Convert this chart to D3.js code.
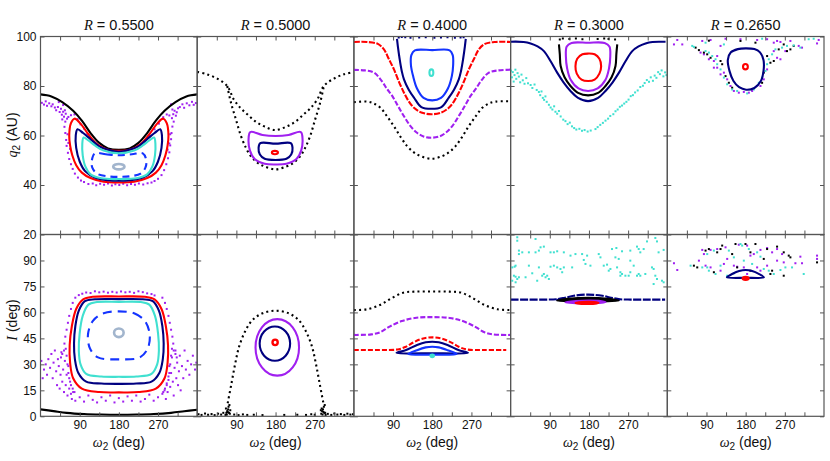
<!DOCTYPE html>
<html><head><meta charset="utf-8">
<script src="https://cdn.jsdelivr.net/npm/d3@7"></script>
<style>
body{margin:0;background:#fff;}
text{font-family:"Liberation Sans",Arial,sans-serif;fill:#111;}
.var{font-family:"Liberation Serif","Times New Roman",serif;font-style:italic;}
</style></head><body>
<svg id="chart" width="830" height="461"></svg>
<script>
// ---------- data (omega in deg, q2 in AU, I in deg) ----------
var rValues = ["0.5500", "0.5000", "0.4000", "0.3000", "0.2650"];
var qTicks = [20, 40, 60, 80, 100];
var iTicks = [0, 15, 30, 45, 60, 75, 90];
var omegaTicks = [45, 90, 135, 180, 225, 270, 315];
var omegaLabels = [90, 180, 270];

// R = 0.55, q2
var p1qBlack = [[0,76.6],[25,75.8],[50,73.5],[75,70],[95,66],[115,61],[135,57],[155,54.8],[180,54.2],[205,54.8],[225,57],[245,61],[265,66],[285,70],[310,73.5],[335,75.8],[360,76.6]];
var p1qRed = [[78,66.8],[92,64.8],[110,60.5],[130,56.5],[155,54.2],[180,53.8],[205,54.2],[230,56.5],[250,60.5],[268,64.8],[282,66.8],[290,65],[294,60],[292,56],[287,52],[278,48],[265,45],[245,42.8],[215,41.3],[180,41],[145,41.3],[115,42.8],[95,45],[82,48],[73,52],[68,56],[66,60],[70,65]];
var p1qNavy = [[85,62.5],[98,61],[115,58.5],[135,55.6],[155,54.2],[180,53.4],[205,54.2],[225,55.6],[245,58.5],[262,61],[275,62.5],[279,60],[278,55],[270,49.5],[257,45.5],[235,43],[205,41.9],[180,41.7],[155,41.9],[125,43],[103,45.5],[90,49.5],[82,55],[81,60]];
var p1qCyan = [[99,59.2],[110,58],[125,56],[145,53.9],[180,52.8],[215,53.9],[235,56],[250,58],[261,59.2],[264,56.5],[263,52],[257,47.5],[245,44.3],[220,42.7],[180,42.4],[140,42.7],[115,44.3],[103,47.5],[97,52],[96,56.5]];
var p1qBlue = [[125,52.8],[150,52.4],[180,52],[210,52.4],[235,52.8],[243,50],[241,47],[230,44.6],[205,43.5],[180,43.3],[155,43.5],[130,44.6],[119,47],[118,50]];
var p1qGray = [180, 47.4, 13, 1.1];
var p1qPurpleDots = [[3,73.2],[8,72.5],[12,73.8],[15,72],[20,73],[25,71.8],[28,72.6],[33,71.3],[36,70.2],[40,71.5],
  [44,69.5],[47,70.8],[49,68.4],[52,69.6],[54,67.6],[56,70.2],[58,68.8],[61,66.8],[50,66.5],[57,65.6],
  [64,67.5],[70,68.2],[78,68.5],[85,66.6],[92,64.5],[100,62.8],[108,60.6],[118,58.2],[126,56.8],[140,55.2],
  [55,63.5],[57,61],[59,58.2],[60,55.8],[63,53],[66,50.5],[70,48.4],[74,46.5],[79,44.6],[86,43],[93,41.8],[100,41.2],[62,60.5],[64,57],[68,54.6],
  [110,40.4],[120,40.6],[128,39.9],[137,40.5],[146,40.1],[155,40.6],[164,39.8],[172,40.3],[181,40],[190,40.5],[199,39.9],[208,40.4],[217,40.1],[226,40.6],[236,40.2],[246,40.7],[255,41],
  [262,41.6],[270,42.5],[278,44],[284,46],[289,48.4],[293,50.8],[296,53.2],[298,56],[300,58.5],[301,61],[303,63.6],[296,56.8],[292,54.3],[298,60.5],
  [302,67],[305,68.6],[308,70],[311,68],[303,70.5],[313,69.4],[316,71],[306,65.6],
  [240,57.6],[250,60],[262,62.5],[272,64.8],[282,67.4],[290,68.5],[296,68.1],
  [320,71.5],[326,72.6],[330,71.2],[336,73],[342,72.2],[348,73.6],[352,72.4],[357,73.1],[52,72.3],[42,73.5],[300,72.6]];

// R = 0.55, I
var p1iBlack = [[0,4],[30,3],[60,2],[100,1.3],[140,1],[180,0.9],[220,1],[260,1.3],[300,2],[330,2.9],[360,3.8]];
var p1iRed = [[120,69],[180,69.2],[240,69],[262,67.5],[278,62],[288,52],[293,41],[292,31],[285,22],[265,16],[225,14],[180,13.8],[135,14],[95,16],[75,22],[68,31],[67,41],[72,52],[82,62],[98,67.5]];
var p1iNavy = [[125,67.6],[180,67.7],[235,67.6],[258,66.5],[272,61],[280,52],[283,42],[281,33],[273,25],[255,20],[220,18.9],[180,18.7],[140,18.9],[105,20],[87,25],[79,33],[77,42],[80,52],[88,61],[102,66.5]];
var p1iCyan = [[130,66],[180,66.1],[230,66],[250,64.5],[263,58],[270,48],[272,38],[268,30],[255,24.5],[220,23],[180,22.8],[140,23],[105,24.5],[92,30],[88,38],[90,48],[97,58],[110,64.5]];
var p1iBlue = [[180,60.6],[215,59.5],[240,55],[251,47],[246,39],[228,34],[180,32.9],[132,34],[114,39],[109,47],[120,55],[145,59.5]];
var p1iGray = [180, 48.2, 11, 2.5];
var p1iPurpleDots = [[88,70],[96,70.8],[105,71.5],[115,71.2],[125,72.2],[135,71.6],[145,72],[155,71.4],[165,71.9],[175,71.5],[185,72.1],[195,71.6],[205,71.9],[215,71.3],[225,72.2],[235,71.7],[245,71],[255,70.6],[262,69.8],
  [80,68.5],[74,65.5],[70,62],[66,58],[63,54],[60,50],[57,46],[55,42],[58,39],[54,38],[50,36],[47,34],
  [8,27],[12,30],[15,24],[18,33],[22,28],[25,36],[28,22],[30,31],[33,38],[36,26],[38,18],[40,33],[42,29],[44,16],[46,24],[48,37],[50,20],[52,27],[54,14],[56,32],[58,18],[60,24],[62,12],[64,29],[66,16],[68,20],[70,13],[72,10],[75,14],[2,32],[5,22],
  [80,9],[90,11],[100,8.5],[110,12],[120,9.5],[130,8],[140,11],[150,9],[160,12],[170,8],[180,10.5],[190,8.5],[200,11.5],[210,9],[220,12],[230,8.5],[240,10],[250,12.5],[260,9],[270,11],[280,13],
  [285,15],[288,10],[290,19],[292,14],[294,23],[296,29],[298,17],[300,25],[302,34],[304,20],[306,12],[308,28],[310,38],[312,22],[314,31],[316,18],[318,26],[320,35],[322,15],[325,29],[328,22],[331,38],[334,27],[338,32],[342,24],[346,30],[350,35],[355,27],[358,31],
  [280,68.5],[286,65.5],[290,62],[294,58],[297,54],[300,50],[303,46],[305,42],[302,39],[306,38],[310,36],[313,34],
  [60,35],[62,30],[64,25],[66,22],[70,18],[74,16],[78,14],[300,35],[298,30],[296,25],[294,21],[290,18],[286,16],[282,14]];

// R = 0.50, q2
var p2qBlackUpper = [[0,85.7],[23,84.7],[46,83],[69,80],[84,74.6],[100,71],[115,68.6],[135,65.5],[155,63.6],[180,62.2],[205,63.6],[225,65.5],[245,68.6],[260,71],[276,74.6],[291,80],[314,83],[337,84.7],[360,85.7]];
var p2qBlackLower = [[69,80],[77.5,73.3],[89,66.5],[100.5,59.8],[112,55],[123,51.7],[140,48.8],[155,47.5],[180,46.3],[205,47.5],[220,48.8],[237,51.7],[248,55],[259.5,59.8],[271,66.5],[282.5,73.3],[291,80]];
var p2qPurple = [[122,61.4],[150,60.2],[180,59.8],[210,60.2],[238,61.4],[242,58.5],[239,54],[228,50.5],[205,48.6],[180,48.3],[155,48.6],[132,50.5],[121,54],[118,58.5]];
var p2qNavy = [[145,56.9],[180,56.7],[215,56.9],[219,55],[216,52.3],[205,50.6],[180,50.1],[155,50.6],[144,52.3],[141,55]];
var p2qRed = [178.5, 53.1, 7, 0.7];

// R = 0.50, I
var p2iBlackArch = [[70,7.5],[78,18],[87,30],[96,40],[110,49],[127,55.6],[150,59.5],[180,61],[210,59.5],[233,55.6],[250,49],[264,40],[273,30],[282,18],[290,7.5]];
var p2iBlackDots = [[68,1],[70,2.5],[71,4],[72,5.5],[69,3],[73,2],[66,4.5],[74,6.5],[67,2],[75,1.5],[65,0.8],[76,3.5],
  [288,1],[290,2.5],[289,4],[291,5.5],[287,3],[292,2],[286,4.5],[293,6.5],[294,2],[285,1.5],[295,0.8],[284,3.5],
  [3,1.2],[10,0.8],[18,1.6],[25,0.9],[33,1.3],[40,0.7],[48,1.5],[55,1],[60,2],[85,1],[95,0.7],[105,1.1],[115,0.8],[130,0.9],[150,0.7],[200,0.8],[230,0.9],[250,0.8],[262,1.2],[270,0.9],[300,1.4],[308,0.8],[315,1.6],[322,1],[330,1.3],[338,0.8],[345,1.5],[352,1],[358,1.2]];
var p2iPurple = [184, 39.8, 50, 16.3];
var p2iNavy = [178.5, 42, 35, 9.9];
var p2iRed = [179, 42.7, 6, 1.6];

// R = 0.40, q2
var p3qRed = [[0,97.8],[30,97.8],[55,97],[69,94.8],[80,91],[92,86.7],[104,81.5],[115,77.3],[126,73.8],[138,71.2],[155,69.3],[178,68.6],[201,69.3],[218,71.2],[230,73.8],[241,77.3],[252,81.5],[264,86.7],[276,91],[287,94.8],[301,97],[326,97.8],[360,97.8]];
var p3qNavy = [[99,99],[101,96],[105,91],[110,86],[115,82.7],[126,78.5],[138,75.3],[155,71.5],[178,70.8],[201,71.5],[218,75.3],[230,78.5],[241,82.7],[246,86],[251,91],[255,96],[257,99]];
var p3qNavyTop = [[103,99.6],[110,99.8],[118,99.7],[130,99.5],[150,99.6],[165,99.7],[185,99.5],[200,99.6],[215,99.7],[232,99.5],[245,99.6],[252,99.7]];
var p3qBlue = [[140,94.4],[180,94.5],[220,94.4],[227,92.5],[228,88.5],[225,84],[216,79],[200,75.2],[180,74.2],[160,75.2],[145,79],[136,84],[131,88.5],[132,92.5]];
var p3qCyan = [178, 85.4, 4.5, 1.3];
var p3qPurple = [[0,86.5],[25,86.3],[46,85.4],[62,82.5],[76.5,78.7],[88,76],[101,72],[114.7,67.9],[130,63.8],[145,61.1],[160,59.6],[178,59.1],[196,59.6],[211,61.1],[226,63.8],[241,67.9],[255,72],[268,76],[279.5,78.7],[294,82.5],[310,85.4],[331,86.3],[360,86.6]];
var p3qBlack = [[0,73.5],[30,73.7],[45,73],[61,71.2],[76,67.8],[91.7,63.8],[107,59.5],[122,55.8],[137,53.3],[153,51.7],[178,50.6],[203,51.7],[219,53.3],[234,55.8],[249,59.5],[264,63.8],[280,67.8],[295,71.2],[311,73],[326,73.7],[360,73.8]];

// R = 0.40, I
var p3iBlack = [[0,61.4],[30,61.8],[60,64.3],[85,68],[113,71.4],[140,72],[180,72.1],[220,72],[247,71.4],[275,68],[300,64.3],[330,61.8],[360,61.4]];
var p3iPurple = [[0,47],[40,47.3],[60,48.5],[82,51.8],[110,55],[140,56.8],[180,57.3],[220,56.8],[250,55],[278,51.8],[300,48.5],[320,47.3],[360,47]];
var p3iRed = [[0,38.3],[60,38.3],[100,38.6],[118,40],[137,42.7],[157,44.8],[180,45.6],[203,44.8],[223,42.7],[242,40],[260,38.6],[300,38.3],[350,38.3]];
var p3iNavy = [[98,36.7],[120,38.3],[145,41.2],[165,42.8],[180,43.1],[195,42.8],[215,41.2],[240,38.3],[262,36.7],[180,36.4]];
var p3iBlue = [[125,36],[145,38.2],[165,39.8],[180,40.2],[195,39.8],[215,38.2],[236,36],[180,35.6]];
var p3iCyan = [180, 34.9, 4, 0.8];

// R = 0.30, q2
var p4qNavy = [[0,97.9],[30,97.8],[46,97.2],[62,96],[76.5,94.1],[92,90],[107,85.4],[122,81.4],[137.6,78],[155,75.2],[178,73.9],[201,75.2],[218,78],[234,81.4],[249,85.4],[264,90],[279.5,94.1],[294,96],[310,97.2],[326,97.8],[345,97.9],[356,97.9]];
var p4qBlack = [[111,96.8],[113,93],[115,88.1],[124,83.5],[137.6,80],[155,77.2],[178,76.2],[201,77.2],[218,80],[232,83.5],[241,88.1],[243,93],[245,96.8]];
var p4qBlackTop = [[113,98.8],[120,99.2],[135,99],[150,99.2],[165,98.9],[200,99],[215,99.2],[225,99],[240,98.8]];
var p4qPurple = [[140,97.4],[178,97.5],[216,97.4],[227,96],[229,92],[226,87],[218,82.5],[200,79],[178,78],[156,79],[138,82.5],[130,87],[127,92],[129,96]];
var p4qRed = [[165,92.8],[178,93.1],[193,92.8],[204,91],[208,88],[204,85],[193,82.6],[178,82],[163,82.6],[152,85],[149,88],[153,91]];
var p4qCyanDots = [[1,86.2],[3,83.5],[5,85.6],[7,81.8],[9,84.4],[11,86.6],[13,82.9],[16,85.2],[19,83.8],[22,81.5],[25,84.6],[28,82.3],[32,80.9],[36,83.2],[40,81.1],
  [46,80.4],[50,79.2],[55,80.6],[60,78.4],[65,77.6],[68,76.3],[71,77.8],[74,75.2],[77,74.4],[80,75.8],[83,73.6],
  [88,72.4],[92,71.3],[96,70.5],[100,71.8],[103,69.6],[107,68.8],[111,69.9],[115,67.7],
  [121,66.4],[126,65.8],[131,64.6],[136,65.2],[141,63.7],[146,63],[151,62.4],[158,62.7],[164,61.9],[170,62.2],[177,61.6],[184,62],
  [195,62.6],[200,63.4],[206,64.3],[212,65.1],[218,66],[224,66.8],[229,67.9],[236,68.6],[241,69.8],[246,70.5],[251,71.6],[256,72.1],[261,72.9],[266,73.6],
  [271,74.5],[276,75.9],[281,76.3],[286,77.4],[292,78.2],[298,79.6],[304,80.1],[308,81.2],[313,82.4],[318,81.7],[322,83.5],[327,82.1],[331,84.2],[335,83.3],
  [339,85.6],[343,84.8],[347,86.3],[351,83.9],[355,85.5],[358,84.4]];

// R = 0.30, I
var p4iNavy = [[0,67.4],[40,67.4],[80,67.4],[105,67.6],[125,68.5],[145,69.6],[178,70.3],[211,69.6],[231,68.5],[251,67.6],[276,67.4],[320,67.4],[355,67.4]];
var p4iNavyBase = [[105,67.3],[178,67.1],[251,67.3]];
var p4iBlack = [[107,66.8],[130,67.8],[155,68.3],[178,68.5],[201,68.3],[226,67.8],[248,66.8],[178,66.4]];
var p4iPurple = [[126,65.9],[150,66.6],[178,66.8],[206,66.6],[218,65.9],[178,65.3]];
var p4iRed = [[149,65.5],[165,66],[178,66.1],[191,66],[202,65.5],[178,64.9]];
var p4iCyanDots = [[15.3,103.4],[15.3,101.4],[57.3,102.4],[19.1,95.7],[26.8,94.7],[19.1,93.7],[42,94.7],[68.8,97.6],[76.4,98],[65,95.7],[57.3,94.7],
  [91.7,94.7],[99.4,94.7],[107,95.3],[122.3,94.7],[137.6,92.8],[149,93.7],[164.3,93.7],[175.8,92.8],[202.5,93.7],[233,96.6],[243,97.2],[256,95.3],
  [275,95.7],[290.4,98],[305.7,96.6],[313.4,101],[332.5,103],[336.3,101],[340,94.7],[351.6,96.1],[3.8,86],[9.2,86.4],[11.5,87],[7.6,81.2],[11.5,80.6],
  [3.8,78.3],[11.5,77.4],[15.3,79.3],[19.1,80.3],[34.4,80.3],[42,87],[49.7,82.6],[61.1,78.3],[65,86],[72.6,81.2],[76.4,82.2],[80.3,80.3],[84.1,81.2],
  [87.9,79.3],[91.7,86.4],[99.4,87],[107,86],[114.6,85.1],[118.5,83.2],[122.3,86],[141.4,86],[168.1,90.3],[172,88],[183.4,87],[214,87],[221.6,87.6],
  [229.3,85.1],[225.5,84.1],[244.6,86],[252.2,83.2],[256,82.2],[252.2,81.2],[263.7,81.2],[271.3,81.2],[275,83.2],[282.8,87],[290.4,81.2],[294.3,82.2],
  [298,81.2],[309.5,82.2],[324.8,86],[328.6,85.1],[332.5,81.2],[336.3,79.3],[328.6,76.4],[347.8,78.3],[351.6,77.4],[294.3,96.6],[298,94.7],[206.4,91.8],
  [240.8,91.8],[248.4,90.9],[275,89.9]];

// R = 0.265, q2
var p5qNavy = [[180,95.2],[200,94.9],[213,93.6],[221,90.5],[221,86],[215,82],[200,79.2],[181,78.5],[165,79.5],[152,82],[143,86],[139,90.5],[146,93.6],[162,94.9]];
var p5qRed = [179.5, 87.8, 5.5, 1.1];
var p5qPurpleDots = [[15.3,96.8],[22.9,98.6],[34.4,96.8],[80.3,98.2],[99.4,98.6],[133.8,99.1],[168.1,98.9],[206.4,98.6],[229.3,98.9],[252.2,98.2],[282.8,98.2],
  [301.9,96.2],[309.5,95.5],[344,97.2],[347.8,98.6],[114.6,92.1],[107,90.1],[114.6,87.4],[130,85.4],[137.6,82.7],[145.2,80],[152.9,78],[164.3,77.3],
  [175.8,77.6],[187.3,77.3],[194.9,78],[214,80],[221.6,82.7],[229.3,86.7],[252.2,91.4],[259.9,90.8],[271.3,94.1],[244.6,94.1],[244.6,97.5],[259.9,97.8],
  [122.3,96.2],[76.4,93.5],[84.1,92.8],[95.5,90.8],[107,87.4],[122.3,84.7]];
var p5qBlackDots = [[65,95.5],[72.6,94.5],[84.1,93.5],[91.7,92.8],[99.4,91.4],[122.3,90.1],[126.1,88.8],[133.8,84],[141.4,81.3],[149,79.3],[229.3,92.1],
  [236.9,89.4],[244.6,90.1],[256,94.8],[267.5,96.8],[275,94.1],[282.8,94.8],[290.4,96.2],[95.5,98.3],[168.1,98.2],[202.5,97.5],[221.6,85.4],[217.8,81.3]];
var p5qCyanDots = [[57.3,96.2],[61.1,95.8],[87.9,94.1],[95.5,93.5],[103.2,92.1],[110.8,90.8],[114.6,88.8],[122.3,86.7],[130,83.4],[137.6,80.7],[149,78.6],
  [160.5,78],[183.4,77],[198.7,78.6],[210.2,81.3],[217.8,83.4],[225.5,86.1],[229.3,88.8],[233.1,90.8],[240.8,92.8],[248.4,94.8],[263.7,95.5],[275,96.2],
  [290.4,96.4],[305.7,95.5],[324.8,98.9],[336.3,99.1],[87.9,97.5],[130,96.8],[217.8,99.1]];

// R = 0.265, I
var p5iNavy = [[137,80.3],[150,82.3],[165,83.9],[180,84.5],[195,83.9],[210,82.3],[222,80.3],[180,80]];
var p5iRed = [180, 79.7, 7, 0.9];
var p5iPurpleDots = [[15.3,88.4],[22.9,84.5],[80.3,96.1],[84.1,93.7],[99.4,96.1],[114.6,96.6],[133.8,97.6],[164.3,99.1],[183.4,98.6],[198.7,93.7],[214,96.1],
  [229.3,97.2],[240.8,94.7],[252.2,96.6],[263.7,93.7],[305.7,92.2],[309.5,88.4],[344,92.8],[344,90.9],[137.6,90.9],[152.9,87],[160.5,86.4],[130,88],
  [191,92.8],[99.4,86],[122.3,84.1],[206.4,86],[229.3,87],[252.2,89.9],[267.5,88.9],[294.3,88.4],[72.6,89.9],[87.9,87],[175.8,86],[183.4,82.2],[214,84.1]];
var p5iBlackDots = [[61.1,87],[68.8,86],[87.9,95.7],[95.5,96.6],[122.3,96.6],[126.1,98.6],[156.7,99.5],[179.6,99.5],[191,94.7],[202.5,99.5],[229.3,96.6],
  [252.2,98],[267.5,94.7],[279,92.8],[282.8,91.8],[107,83.2],[160.5,86],[191,84.1],[236.9,82.2],[267.5,81.2],[114.6,94.7],[149,93.7],[221.6,90.9],
  [240.8,84.1],[344,88.9]];
var p5iCyanDots = [[53.5,87],[80.3,86],[95.5,84.1],[110.8,82.2],[137.6,81.2],[152.9,82.6],[168.1,99.5],[172,98.6],[141.4,95.7],[152.9,91.8],[175.8,89.9],
  [194.9,88],[214,92.2],[221.6,85.1],[233.1,84.1],[244.6,82.2],[259.9,84.5],[271.3,86],[286.6,86],[313.4,82.2],[91.7,93.7],[107,95.7],[187.3,96.6],
  [206.4,94.7],[122.3,87],[91.7,86]];

// ---------- layout ----------
var svgWidth = 830, svgHeight = 461;
var left = 40.5, panelW = 156.7;
var topY = 36.5, midY = 234.5, botY = 416.3;

var col = {black:"#000", purple:"#a020f0", red:"#ff0000", navy:"#000080", blue:"#1434ff", cyan:"#40e0d0", gray:"#a2b5cd"};
var dotted = "2,3.2";

var svg = d3.select("#chart");

var x = d3.scaleLinear().domain([0, 360]).range([0, panelW]);
var yq = d3.scaleLinear().domain([20, 100]).range([midY, topY]);
var yi = d3.scaleLinear().domain([0, 105]).range([botY, midY]);

// what to draw in each panel
var layers = [
  {p:0, y:yq, d:p1qPurpleDots, t:"dots", c:col.purple},
  {p:0, y:yq, d:p1qBlack, t:"open", c:col.black},
  {p:0, y:yq, d:p1qRed, t:"closed", c:col.red},
  {p:0, y:yq, d:p1qNavy, t:"closed", c:col.navy},
  {p:0, y:yq, d:p1qCyan, t:"closed", c:col.cyan},
  {p:0, y:yq, d:p1qBlue, t:"closed", c:col.blue, dash:"7,5"},
  {p:0, y:yq, d:p1qGray, t:"ellipse", c:col.gray, w:2.6},
  {p:0, y:yi, d:p1iPurpleDots, t:"dots", c:col.purple},
  {p:0, y:yi, d:p1iBlack, t:"open", c:col.black},
  {p:0, y:yi, d:p1iRed, t:"closed", c:col.red},
  {p:0, y:yi, d:p1iNavy, t:"closed", c:col.navy},
  {p:0, y:yi, d:p1iCyan, t:"closed", c:col.cyan},
  {p:0, y:yi, d:p1iBlue, t:"closed", c:col.blue, dash:"9,6"},
  {p:0, y:yi, d:p1iGray, t:"ellipse", c:col.gray, w:2.6},

  {p:1, y:yq, d:p2qBlackUpper, t:"open", c:col.black, dash:dotted},
  {p:1, y:yq, d:p2qBlackLower, t:"open", c:col.black, dash:dotted},
  {p:1, y:yq, d:p2qPurple, t:"closed", c:col.purple},
  {p:1, y:yq, d:p2qNavy, t:"closed", c:col.navy},
  {p:1, y:yq, d:p2qRed, t:"ellipse", c:col.red},
  {p:1, y:yi, d:p2iBlackDots, t:"dots", c:col.black},
  {p:1, y:yi, d:p2iBlackArch, t:"open", c:col.black, dash:dotted},
  {p:1, y:yi, d:p2iPurple, t:"ellipse", c:col.purple},
  {p:1, y:yi, d:p2iNavy, t:"ellipse", c:col.navy},
  {p:1, y:yi, d:p2iRed, t:"ellipse", c:col.red, w:2.4},

  {p:2, y:yq, d:p3qBlack, t:"open", c:col.black, dash:dotted},
  {p:2, y:yq, d:p3qPurple, t:"open", c:col.purple, dash:"5,2"},
  {p:2, y:yq, d:p3qRed, t:"open", c:col.red, dash:"6,1.5"},
  {p:2, y:yq, d:p3qNavy, t:"open", c:col.navy},
  {p:2, y:yq, d:p3qNavyTop, t:"dots", c:col.navy},
  {p:2, y:yq, d:p3qBlue, t:"closed", c:col.blue},
  {p:2, y:yq, d:p3qCyan, t:"ellipse", c:col.cyan},
  {p:2, y:yi, d:p3iBlack, t:"open", c:col.black, dash:dotted},
  {p:2, y:yi, d:p3iPurple, t:"open", c:col.purple, dash:"5,2"},
  {p:2, y:yi, d:p3iRed, t:"open", c:col.red, dash:"5,2"},
  {p:2, y:yi, d:p3iNavy, t:"closed", c:col.navy},
  {p:2, y:yi, d:p3iBlue, t:"closed", c:col.blue},
  {p:2, y:yi, d:p3iCyan, t:"ellipse", c:col.cyan, fill:true},

  {p:3, y:yq, d:p4qCyanDots, t:"dots", c:col.cyan},
  {p:3, y:yq, d:p4qNavy, t:"open", c:col.navy},
  {p:3, y:yq, d:p4qBlack, t:"open", c:col.black},
  {p:3, y:yq, d:p4qBlackTop, t:"dots", c:col.black},
  {p:3, y:yq, d:p4qPurple, t:"closed", c:col.purple},
  {p:3, y:yq, d:p4qRed, t:"closed", c:col.red},
  {p:3, y:yi, d:p4iCyanDots, t:"dots", c:col.cyan},
  {p:3, y:yi, d:p4iNavy, t:"open", c:col.navy, dash:"8,1.5"},
  {p:3, y:yi, d:p4iNavyBase, t:"open", c:col.navy},
  {p:3, y:yi, d:p4iBlack, t:"closed", c:col.black, fill:true},
  {p:3, y:yi, d:p4iPurple, t:"closed", c:col.purple, fill:true},
  {p:3, y:yi, d:p4iRed, t:"closed", c:col.red, fill:true},

  {p:4, y:yq, d:p5qPurpleDots, t:"dots", c:col.purple},
  {p:4, y:yq, d:p5qBlackDots, t:"dots", c:col.black},
  {p:4, y:yq, d:p5qCyanDots, t:"dots", c:col.cyan},
  {p:4, y:yq, d:p5qNavy, t:"closed", c:col.navy},
  {p:4, y:yq, d:p5qRed, t:"ellipse", c:col.red},
  {p:4, y:yi, d:p5iPurpleDots, t:"dots", c:col.purple},
  {p:4, y:yi, d:p5iBlackDots, t:"dots", c:col.black},
  {p:4, y:yi, d:p5iCyanDots, t:"dots", c:col.cyan},
  {p:4, y:yi, d:p5iNavy, t:"closed", c:col.navy},
  {p:4, y:yi, d:p5iRed, t:"ellipse", c:col.red, fill:true}
];

// clip paths for top and bottom rows
var defs = svg.append("defs");
defs.append("clipPath").attr("id", "clipTop").append("rect")
  .attr("x", 0).attr("y", topY).attr("width", panelW).attr("height", midY - topY);
defs.append("clipPath").attr("id", "clipBot").append("rect")
  .attr("x", 0).attr("y", midY).attr("width", panelW).attr("height", botY - midY);

var panels = svg.selectAll("g.panel").data(rValues).enter().append("g")
  .attr("class", "panel")
  .attr("transform", (d, i) => `translate(${left + i * panelW},0)`);

panels.each(function(r, i) {
  var g = d3.select(this);
  var gTop = g.append("g").attr("clip-path", "url(#clipTop)");
  var gBot = g.append("g").attr("clip-path", "url(#clipBot)");

  layers.filter(l => l.p === i).forEach(function(l) {
    var yS = l.y;
    var target = (yS === yq) ? gTop : gBot;
    var w = l.w || 2.1;
    if (l.t === "dots") {
      target.append("g").selectAll("rect").data(l.d).enter().append("rect")
        .attr("x", d => x(d[0]) - 1)
        .attr("y", d => yS(d[1]) - 1)
        .attr("width", 2).attr("height", 2)
        .attr("fill", l.c);
    } else if (l.t === "ellipse") {
      target.append("ellipse")
        .attr("cx", x(l.d[0]))
        .attr("cy", yS(l.d[1]))
        .attr("rx", x(l.d[2]) - x(0))
        .attr("ry", Math.abs(yS(l.d[1] + l.d[3]) - yS(l.d[1])))
        .attr("fill", l.fill ? l.c : "none")
        .attr("stroke", l.c)
        .attr("stroke-width", w);
    } else {
      var line = d3.line()
        .x(d => x(d[0]))
        .y(d => yS(d[1]))
        .curve(l.t === "closed" ? d3.curveCatmullRomClosed.alpha(0.5) : d3.curveCatmullRom.alpha(0.5));
      target.append("path")
        .datum(l.d)
        .attr("d", line)
        .attr("fill", l.fill ? l.c : "none")
        .attr("stroke", l.c)
        .attr("stroke-width", w)
        .attr("stroke-dasharray", l.dash || null);
    }
  });

  // frames
  g.append("rect").attr("x", 0).attr("y", topY).attr("width", panelW).attr("height", midY - topY)
    .attr("fill", "none").attr("stroke", "#555").attr("stroke-width", 1.2);
  g.append("rect").attr("x", 0).attr("y", midY).attr("width", panelW).attr("height", botY - midY)
    .attr("fill", "none").attr("stroke", "#555").attr("stroke-width", 1.2);

  // ticks (inward), labels only on outer edges
  var fmtY = i === 0 ? d3.format("d") : () => "";
  var axes = [
    g.append("g").call(d3.axisLeft(yq).tickValues(qTicks).tickSizeInner(-4).tickSizeOuter(0).tickPadding(4).tickFormat(fmtY)),
    g.append("g").attr("transform", `translate(${panelW},0)`).call(d3.axisRight(yq).tickValues(qTicks).tickSizeInner(-4).tickSizeOuter(0).tickFormat("")),
    g.append("g").call(d3.axisLeft(yi).tickValues(iTicks).tickSizeInner(-4).tickSizeOuter(0).tickPadding(4).tickFormat(fmtY)),
    g.append("g").attr("transform", `translate(${panelW},0)`).call(d3.axisRight(yi).tickValues(iTicks).tickSizeInner(-4).tickSizeOuter(0).tickFormat("")),
    g.append("g").attr("transform", `translate(0,${topY})`).call(d3.axisTop(x).tickValues(omegaTicks).tickSizeInner(-4).tickSizeOuter(0).tickFormat("")),
    g.append("g").attr("transform", `translate(0,${midY})`).call(d3.axisBottom(x).tickValues(omegaTicks).tickSizeInner(-4).tickSizeOuter(0).tickFormat("")),
    g.append("g").attr("transform", `translate(0,${midY})`).call(d3.axisTop(x).tickValues(omegaTicks).tickSizeInner(-4).tickSizeOuter(0).tickFormat("")),
    g.append("g").attr("transform", `translate(0,${botY})`).call(d3.axisBottom(x).tickValues(omegaTicks).tickSizeInner(-4).tickSizeOuter(0).tickPadding(4)
      .tickFormat(d => omegaLabels.indexOf(d) >= 0 ? d : ""))
  ];
  axes.forEach(function(a) {
    a.select(".domain").remove();
    a.selectAll(".tick line").attr("stroke", "#555");
    a.selectAll(".tick text").attr("font-size", 12).attr("font-family", "Liberation Sans, Arial, sans-serif").attr("fill", "#111");
  });

  // title
  var t = g.append("text").attr("x", panelW / 2).attr("y", 29.5)
    .attr("text-anchor", "middle").attr("font-size", 14.5);
  t.append("tspan").attr("class", "var").text("R");
  t.append("tspan").text(" = " + r);

  // x label
  var xl = g.append("text").attr("x", panelW / 2).attr("y", 447)
    .attr("text-anchor", "middle").attr("font-size", 14);
  xl.append("tspan").attr("class", "var").text("ω");
  xl.append("tspan").attr("font-size", 10).attr("dy", 3).text("2");
  xl.append("tspan").attr("dy", -3).text(" (deg)");
});

// y labels
var yl1 = svg.append("text").attr("transform", "translate(17,135) rotate(-90)")
  .attr("text-anchor", "middle").attr("font-size", 14);
yl1.append("tspan").attr("class", "var").text("q");
yl1.append("tspan").attr("font-size", 10).attr("dy", 3).text("2");
yl1.append("tspan").attr("dy", -3).text(" (AU)");

var yl2 = svg.append("text").attr("transform", "translate(17,320) rotate(-90)")
  .attr("text-anchor", "middle").attr("font-size", 14);
yl2.append("tspan").attr("class", "var").text("I");
yl2.append("tspan").text(" (deg)");
</script>
</body></html>
